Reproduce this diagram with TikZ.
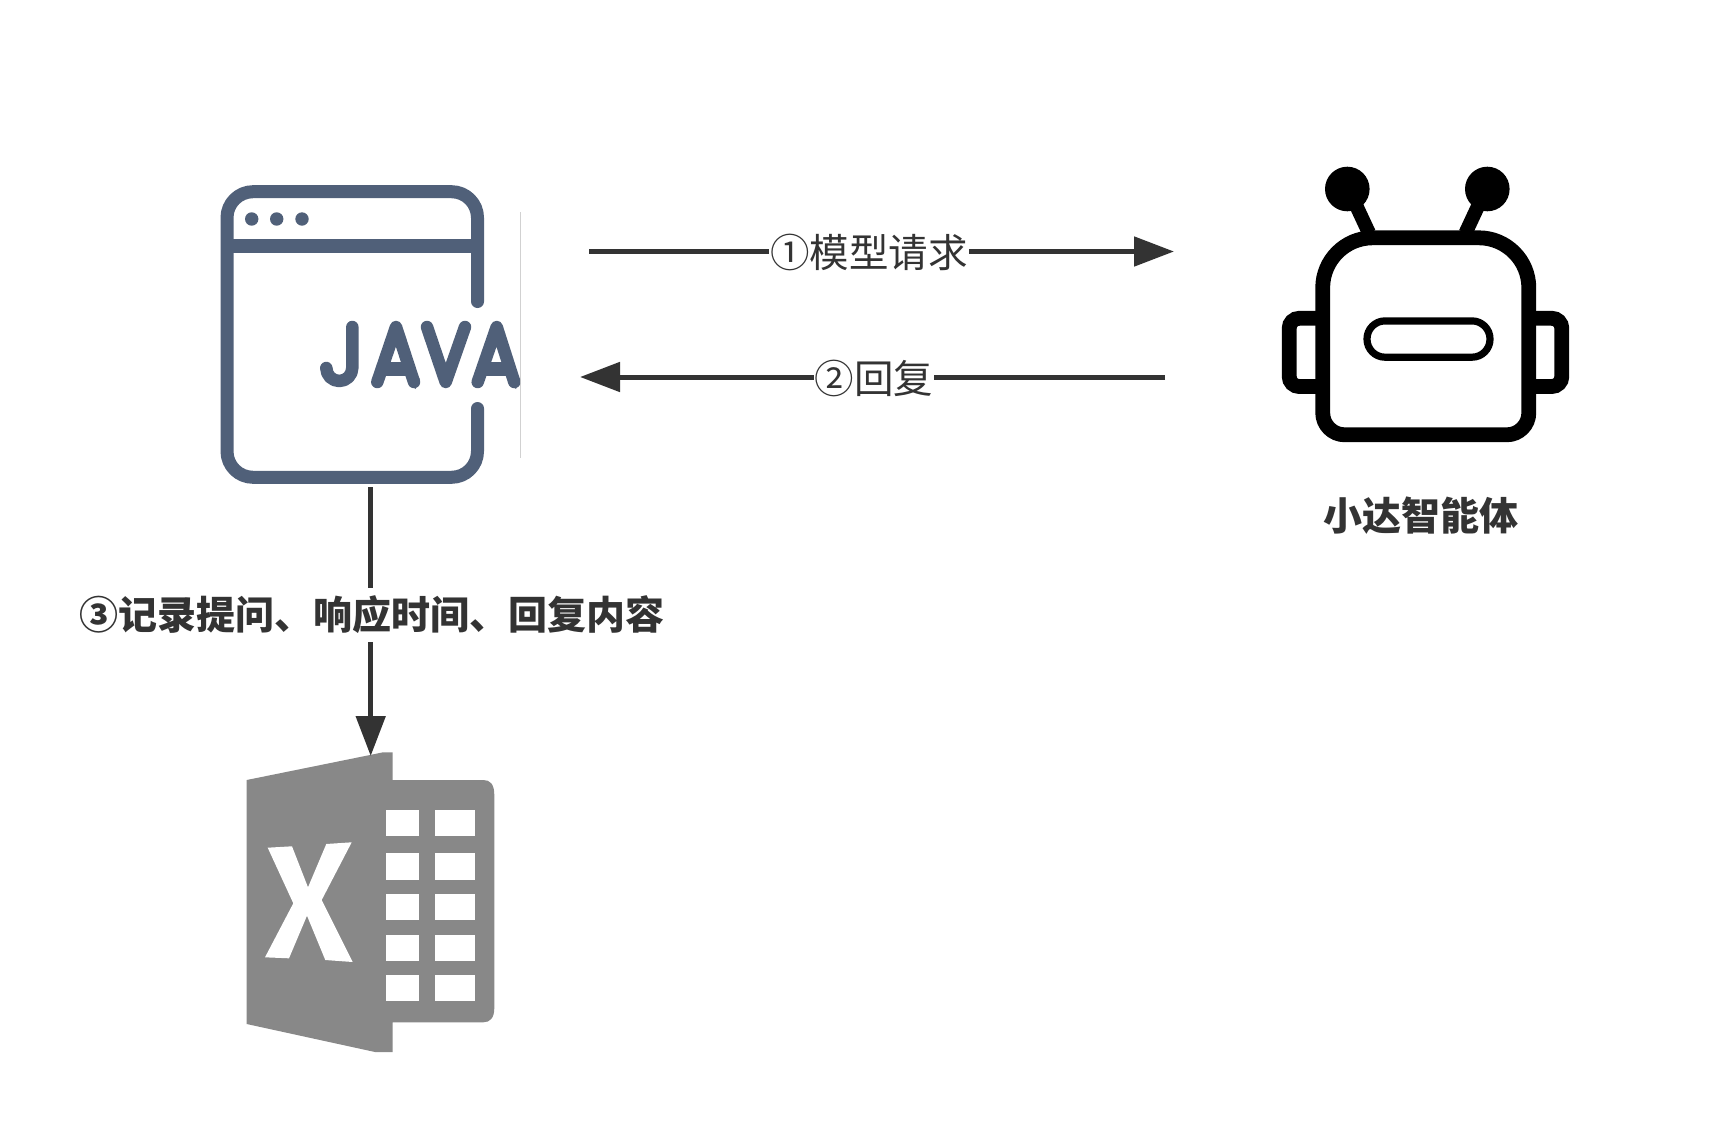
\documentclass[tikz,border=0pt]{standalone}
\usepackage{fontspec}
\usetikzlibrary{arrows.meta}
\newfontfamily\cjk{Noto Sans CJK SC}
\definecolor{slateicon}{HTML}{506079}
\definecolor{inkline}{HTML}{333333}
\definecolor{sheetgray}{HTML}{888888}
\tikzset{
  conn/.style={draw=inkline,line width=5pt,-{Triangle[length=40pt,width=29pt,inset=0pt]}},
  plainlbl/.style={font=\cjk\fontsize{39.5}{40}\selectfont,text=inkline,fill=white,inner xsep=1pt,inner ysep=0pt,minimum height=54pt},
  boldlbl/.style={font=\cjk\bfseries\fontsize{39}{40}\selectfont,text=inkline,fill=white,inner xsep=1pt,inner ysep=0pt,minimum height=54pt},
  winline/.style={draw=slateicon,line width=13pt,line cap=round,line join=round},
  letter/.style={draw=slateicon,line width=12.5pt,line cap=round,line join=round},
  robotline/.style={draw=black,line width=14.8pt},
  slot/.style={fill=white,draw=none},
  boxonly/.style={draw=none,fill=none,inner sep=0pt}
}
\begin{document}
\begin{tikzpicture}[x=1pt,y=-1pt]
\useasboundingbox (0,0) rectangle (1726,1127);
\fill[white] (0,0) rectangle (1726,1127);

% anchors of the three icons
\node[boxonly,minimum width=300pt,minimum height=300pt] (java) at (370,335) {};
\node[boxonly,minimum width=288pt,minimum height=290pt] (robot) at (1425.5,312) {};
\node[boxonly,minimum width=248pt,minimum height=300pt] (excel) at (370.5,902) {};

% Java window
\draw[winline] (477.5,301.5) -- (477.5,217.7) arc[start angle=0,end angle=-90,radius=26]
  -- (253,191.7) arc[start angle=270,end angle=180,radius=26]
  -- (227,451.3) arc[start angle=180,end angle=90,radius=26]
  -- (451.5,477.3) arc[start angle=90,end angle=0,radius=26] -- (477.5,408.5);
\draw[draw=slateicon,line width=14pt] (227,246.3) -- (477.5,246.3);
\foreach \dx in {251.7,276.7,302}{\fill[slateicon] (\dx,219) circle[radius=6.7];}
\draw[draw=black!18,line width=0.8pt] (520.6,212) -- (520.6,458);
\begin{scope}
\clip (300,300) rectangle (520,400);
\draw[letter] (352.3,327) -- (352.3,368) arc[start angle=0,end angle=180,radius=13];
\draw[letter] (377.3,382) -- (396,327) -- (414,382);
\draw[draw=slateicon,line width=14pt] (385,368.7) -- (407,368.7);
\fill[slateicon] (412,372) -- (420,379) -- (414.5,381.7) -- (416,389) -- (409,385) -- cycle;
\draw[letter] (427,327) -- (445.7,382) -- (465,327);
\draw[letter] (477.7,382) -- (496.7,327) -- (514.3,382);
\draw[draw=slateicon,line width=14pt] (485,368.7) -- (508,368.7);
\fill[slateicon] (512.3,372) -- (520.3,379) -- (514.8,381.7) -- (516.3,389) -- (509.3,385) -- cycle;
\end{scope}

% Robot
\fill[black] (1347.3,189) circle[radius=22.3];
\fill[black] (1487.3,189) circle[radius=22.3];
\draw[draw=black,line width=14pt] (1355,203) -- (1369,233);
\draw[draw=black,line width=14pt] (1479.5,203) -- (1465.5,233);
\draw[robotline,rounded corners=10pt] (1325,318.3) -- (1289.2,318.3) -- (1289.2,386.5) -- (1325,386.5);
\draw[robotline,rounded corners=10pt] (1526,318.3) -- (1561.8,318.3) -- (1561.8,386.5) -- (1526,386.5);
\draw[robotline,fill=white] (1322.7,287.8) arc[start angle=180,end angle=270,radius=50]
  -- (1478.8,237.8) arc[start angle=270,end angle=360,radius=50]
  -- (1528.8,412.8) arc[start angle=0,end angle=90,radius=22]
  -- (1344.7,434.8) arc[start angle=90,end angle=180,radius=22] -- cycle;
\draw[draw=black,line width=7.2pt,rounded corners=18pt] (1367,320.9) rectangle (1490,357.2);
\node[font=\cjk\bfseries\fontsize{39}{40}\selectfont,text=inkline,inner sep=0pt] (agentname) at (1421,515.5) {小达智能体};

% Excel
\fill[sheetgray] (246.7,780) -- (370,755) -- (383,752.3) -- (392.7,752.3) -- (392.7,780)
  -- (483.3,780) .. controls (490,780) and (494.3,784) .. (494.3,795)
  -- (494.3,1008) .. controls (494.3,1018) and (490,1022.3) .. (483.3,1022.3)
  -- (392.7,1022.3) -- (392.7,1052) -- (375,1052) -- (246.7,1024) -- cycle;
\foreach \ya/\yb in {810.3/836.3,853.3/879.7,893.7/919.7,935/961,975.3/1001.3}{
  \fill[slot] (386.3,\ya) rectangle (419.3,\yb);
  \fill[slot] (435,\ya) rectangle (474.7,\yb);
}
\fill[slot] (267.7,847.7) -- (292,846.3) -- (308,887.3) -- (326.3,844) -- (351.7,842.3)
  -- (321.7,900) -- (352.7,962) -- (325.3,960) -- (307,915.7) -- (289,958.3)
  -- (265,957.3) -- (293.3,903.3) -- cycle;

% Connectors
\coordinate (reqS) at (589,251.5);
\coordinate (reqE) at (1174,251.5);
\coordinate (repS) at (1165,377);
\coordinate (repE) at (580,377);
\coordinate (logS) at (370.7,487);
\coordinate (logE) at (370.7,756);
\draw[conn] (reqS) -- (reqE);
\draw[conn] (repS) -- (repE);
\draw[conn] (logS) -- (logE);
\node[plainlbl] (reqlbl) at (869,252) {①模型请求};
\node[plainlbl] (replbl) at (874,378) {②回复};
\node[boldlbl] (loglbl) at (371.5,615) {③记录提问、响应时间、回复内容};
\end{tikzpicture}
\end{document}
